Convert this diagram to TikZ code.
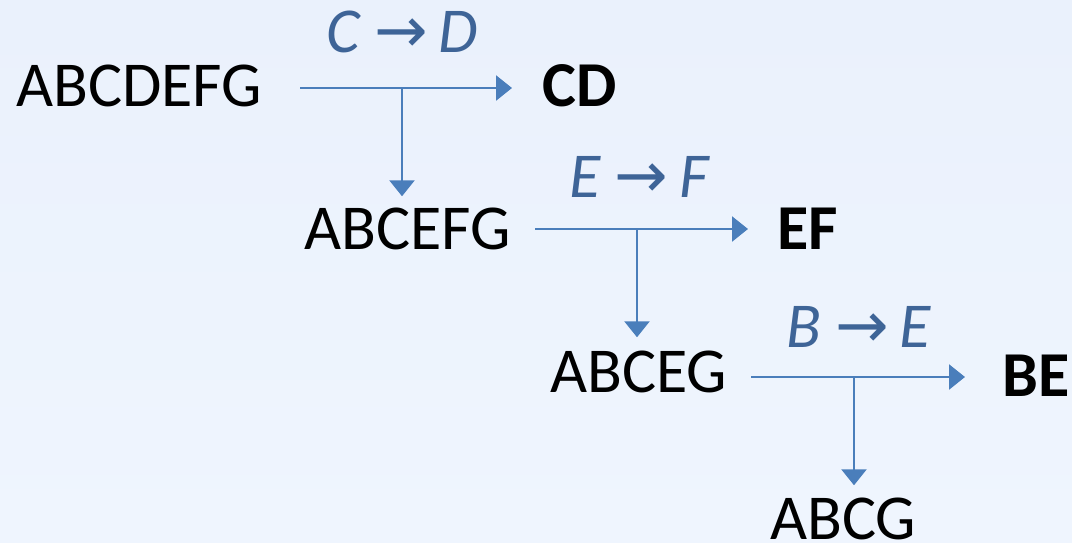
\documentclass[tikz,border=0pt]{standalone}
\usepackage{fontspec}
\setmainfont{Carlito}
\newfontfamily\arrowfont{DejaVu Sans}
\usetikzlibrary{arrows.meta}
\definecolor{bgtop}{HTML}{EAF1FC}
\definecolor{bgbot}{HTML}{EFF5FE}
\definecolor{arrblue}{HTML}{4A7EBB}
\definecolor{lblblue}{HTML}{3E6497}
\begin{document}
\begin{tikzpicture}[x=1pt,y=-1pt,
  txt/.style={font=\fontsize{64}{70}\selectfont, inner sep=0pt, anchor=base west},
  res/.style={font=\fontsize{64}{70}\selectfont\bfseries, inner sep=0pt, anchor=base west},
  lbl/.style={inner sep=0pt, anchor=base west, text=lblblue, font=\fontsize{64}{70}\selectfont\itshape},
  arr/.style={draw=arrblue, line width=2.5pt, -{Triangle[length=16pt,width=25pt]}}]
\shade[top color=bgtop,bottom color=bgbot] (0,0) rectangle (1072,542);
\useasboundingbox (0,0) rectangle (1072,542);
% texts
\node[txt] (s0) at (16,106.5) {ABCDEFG};
\node[res] (r1) at (542,106.5) {CD};
\node[lbl] (l1) at (326,52) {C {\arrowfont →}\,D};
\node[txt] (s1) at (304,249) {ABCEFG};
\node[res] (r2) at (777,249) {EF};
\node[lbl] (l2) at (569,197) {E {\arrowfont →}\,F};
\node[txt] (s2) at (550,392) {ABCEG};
\node[res] (r3) at (1002,396.5) {BE};
\node[lbl] (l3) at (786,347) {B {\arrowfont →}\,E};
\node[txt] (s3) at (770,539) {ABCG};
% connectors
\coordinate (a1) at (300,88);
\coordinate (j1) at (402,88);
\draw[arr, shorten >=30pt] (a1) -- (a1 -| r1.west);
\draw[arr, shorten >=11pt] (j1) -- (j1 |- s1.north);
\coordinate (a2) at (535,229);
\coordinate (j2) at (637,229);
\draw[arr, shorten >=29pt] (a2) -- (a2 -| r2.west);
\draw[arr, shorten >=13pt] (j2) -- (j2 |- s2.north);
\coordinate (a3) at (751,377);
\coordinate (j3) at (854,377);
\draw[arr, shorten >=37pt] (a3) -- (a3 -| r3.west);
\draw[arr, shorten >=12pt] (j3) -- (j3 |- s3.north);
\end{tikzpicture}
\end{document}
